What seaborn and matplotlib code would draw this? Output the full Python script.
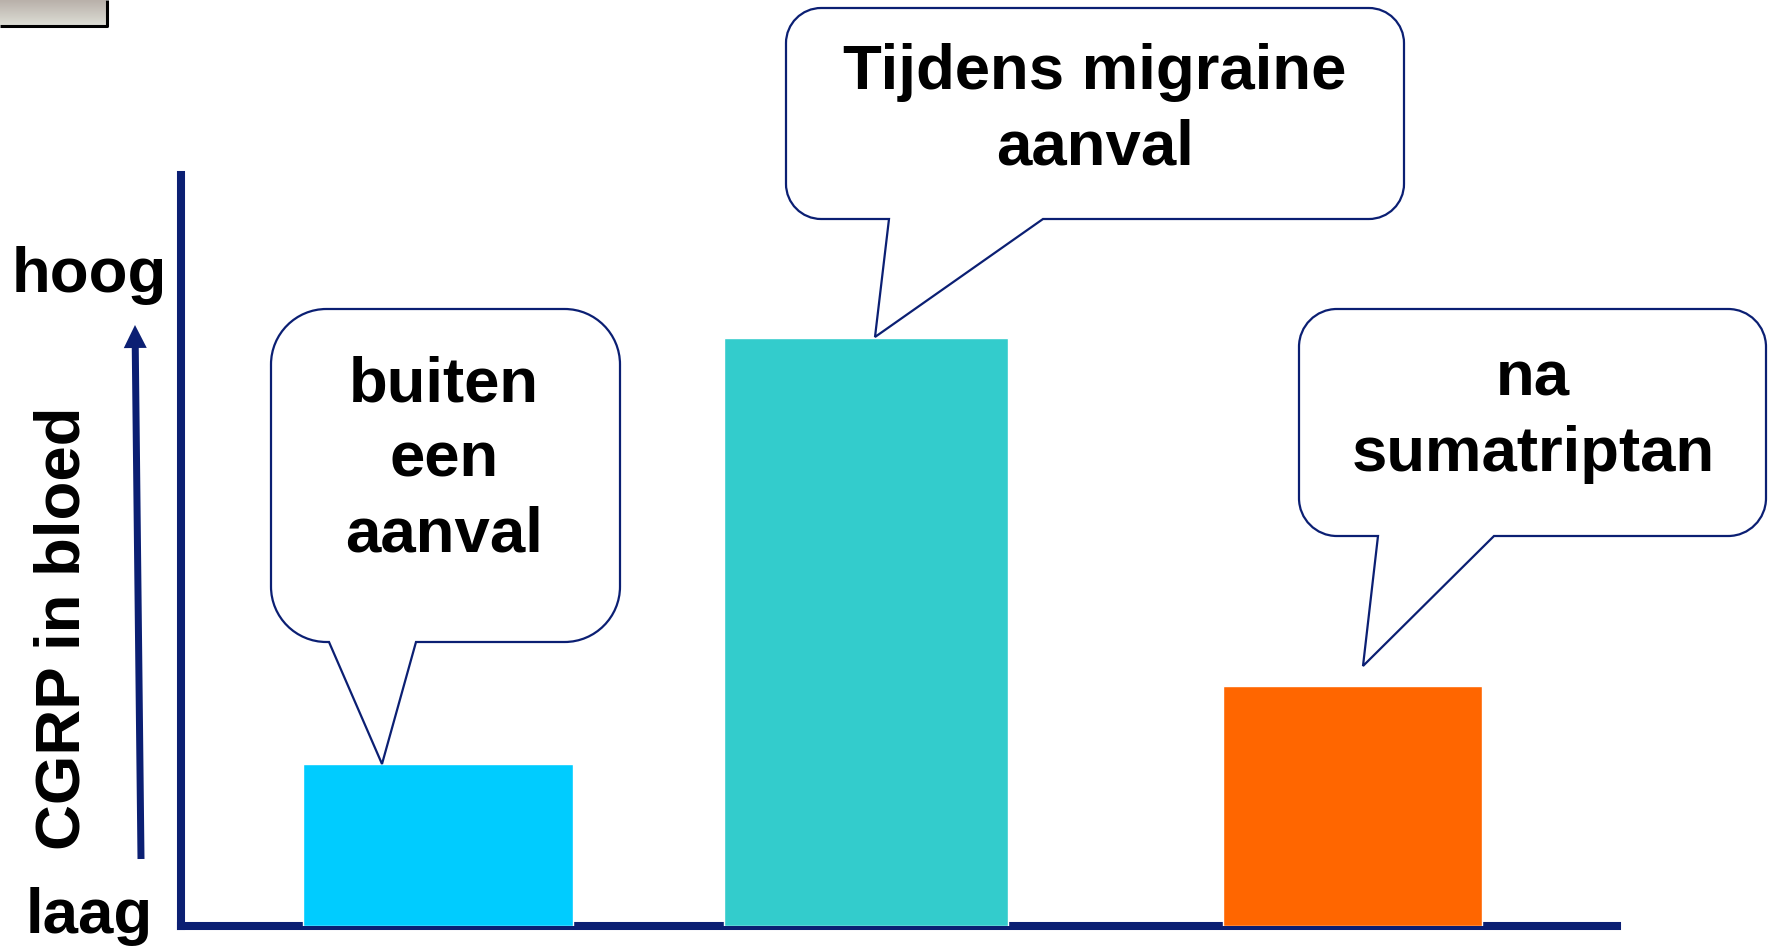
"""CGRP level in blood: outside an attack, during a migraine attack, after sumatriptan."""

import numpy as np
import matplotlib
matplotlib.use("Agg")
import matplotlib.pyplot as plt
from matplotlib.path import Path
from matplotlib.patches import PathPatch, FancyArrow
import seaborn as sns

# data
situaties = ["buiten een aanval", "tijdens migraine aanval", "na sumatriptan"]
cgrp_niveau = [1.62, 5.88, 2.40]
bar_kleuren = ["#00CCFF", "#33CCCC", "#FF6600"]
callout_teksten = ["buiten\neen\naanval", "Tijdens migraine\naanval", "na\nsumatriptan"]
y_label = "CGRP in bloed"
y_hoog, y_laag = "hoog", "laag"

NAVY = "#0B1F73"
W, H = 1773, 949

sns.set_style("white")
plt.rcParams["font.family"] = ["Liberation Sans", "DejaVu Sans"]
plt.rcParams["font.weight"] = "bold"
plt.rcParams["text.color"] = "black"

fig = plt.figure(figsize=(W / 100, H / 100), dpi=100)

# main axes, placed in pixel terms (y counted from the top)
ax_l, ax_r, ax_t, ax_b = 181, 1617, 175, 926
ax = fig.add_axes([ax_l / W, (H - ax_b) / H, (ax_r - ax_l) / W, (ax_b - ax_t) / H])
sns.barplot(x=situaties, y=cgrp_niveau, hue=situaties, palette=bar_kleuren,
            saturation=1, legend=False, edgecolor="white", linewidth=1, ax=ax)

# bars are not evenly spaced in the original slide
bar_links = [303, 724, 1223]
bar_breedte = [270, 284, 259]
bars = [p for c in ax.containers for p in c]
for bar, left, width in zip(bars, bar_links, bar_breedte):
    bar.set_x(left)
    bar.set_width(width)
    bar.set_zorder(3)
ax.set_xlim(ax_l, ax_r)
ax.set_ylim(0, (ax_b - ax_t) / 100)
ax.set_xticks([])
ax.set_yticks([])
ax.set_xlabel("")
ax.set_ylabel("")
for side in ["top", "right"]:
    ax.spines[side].set_visible(False)
for side in ["left", "bottom"]:
    ax.spines[side].set_color(NAVY)
    ax.spines[side].set_linewidth(5.8)
ax.spines["left"].set_capstyle("projecting")
ax.patch.set_alpha(0)

# overlay in pixel coordinates for callouts, arrow and labels
ov = fig.add_axes([0, 0, 1, 1], zorder=5)
ov.set_xlim(0, W)
ov.set_ylim(H, 0)
ov.axis("off")
ov.patch.set_alpha(0)


def callout(x0, y0, x1, y1, tail_l, tip, tail_r):
    r = min(x1 - x0, y1 - y0) / 6
    k = 0.5523
    verts, codes = [], []

    def move(p):
        verts.append(p)
        codes.append(Path.MOVETO)

    def line(p):
        verts.append(p)
        codes.append(Path.LINETO)

    def corner(p0, c, p3):
        verts.extend([(p0[0] + k * (c[0] - p0[0]), p0[1] + k * (c[1] - p0[1])),
                      (p3[0] + k * (c[0] - p3[0]), p3[1] + k * (c[1] - p3[1])), p3])
        codes.extend([Path.CURVE4] * 3)

    move((x0 + r, y0))
    line((x1 - r, y0))
    corner((x1 - r, y0), (x1, y0), (x1, y0 + r))
    line((x1, y1 - r))
    corner((x1, y1 - r), (x1, y1), (x1 - r, y1))
    line((tail_r, y1))
    line(tip)
    line((tail_l, y1))
    line((x0 + r, y1))
    corner((x0 + r, y1), (x0, y1), (x0, y1 - r))
    line((x0, y0 + r))
    corner((x0, y0 + r), (x0, y0), (x0 + r, y0))
    verts.append((x0 + r, y0))
    codes.append(Path.CLOSEPOLY)
    ov.add_patch(PathPatch(Path(verts, codes), facecolor="white",
                           edgecolor=NAVY, linewidth=1.6, joinstyle="miter"))


callout(271, 309, 620, 642, 329, (382, 764), 416)
callout(786, 8, 1404, 219, 889, (875, 337), 1043)
callout(1299, 309, 1766, 536, 1378, (1363, 666), 1494)

fs = 45.7
tekst_pos = [(444, 460), (1095, 110), (1533, 417)]
for (x, y), txt in zip(tekst_pos, callout_teksten):
    ov.text(x, y, txt, ha="center", va="center", fontsize=fs,
            fontweight="bold", linespacing=1.35, color="black")

ov.text(89, 292, y_hoog, ha="center", va="baseline", fontsize=fs,
        fontweight="bold", color="black")
ov.text(89, 933, y_laag, ha="center", va="baseline", fontsize=fs,
        fontweight="bold", color="black")
ov.text(63, 628, y_label, ha="center", va="center", rotation=90,
        fontsize=fs, fontweight="bold", color="black")

ov.add_patch(FancyArrow(141, 859, -6, -534, width=7, head_width=23, head_length=23,
                        length_includes_head=True, color=NAVY, linewidth=0))

# small grey box in the top left corner
grad = np.linspace(0, 1, 30).reshape(-1, 1)
ov.imshow(grad, extent=(0, 106, 25, 0), cmap=matplotlib.colors.LinearSegmentedColormap.from_list(
    "g", ["#B9B1AA", "#DCDCD4"]), aspect="auto", zorder=1)
ov.plot([0, 107, 107], [26, 26, 0], color="black", linewidth=2.2, solid_capstyle="butt")
ov.set_xlim(0, W)
ov.set_ylim(H, 0)

fig.savefig("out.png", dpi=100)
